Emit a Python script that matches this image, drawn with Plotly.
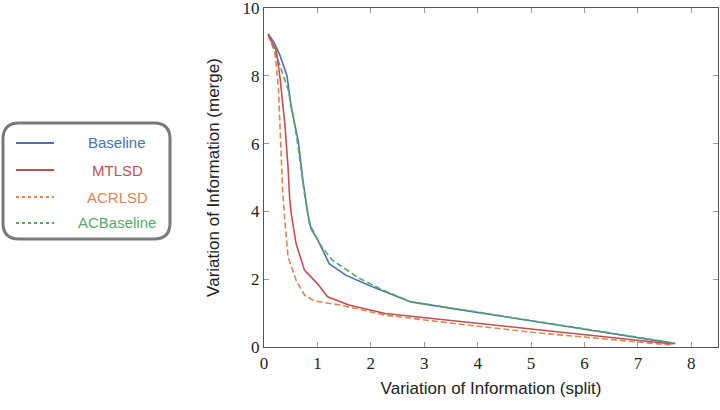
import plotly.graph_objects as go

# ---- data ----
baseline_x = [0.08, 0.2, 0.3, 0.43, 0.51, 0.64, 0.73, 0.82, 0.88, 1.01, 1.22, 1.53, 1.96, 2.75, 3.63, 5.0, 6.3, 7.7]
baseline_y = [9.24, 8.95, 8.6, 8.0, 7.07, 6.09, 4.9, 3.93, 3.49, 3.15, 2.46, 2.12, 1.82, 1.33, 1.11, 0.78, 0.45, 0.1]

acbaseline_x = [0.08, 0.3, 0.45, 0.55, 0.64, 0.75, 0.85, 1.04, 1.28, 1.78, 2.2, 2.75, 3.63, 5.0, 6.3, 7.7]
acbaseline_y = [9.22, 8.3, 7.6, 6.8, 5.9, 4.6, 3.64, 3.05, 2.56, 2.03, 1.7, 1.33, 1.12, 0.79, 0.46, 0.11]

mtlsd_x = [0.08, 0.23, 0.3, 0.39, 0.45, 0.48, 0.51, 0.6, 0.76, 1.0, 1.19, 1.59, 2.27, 3.14, 5.0, 7.65]
mtlsd_y = [9.2, 8.74, 7.95, 6.58, 5.3, 4.4, 3.93, 3.05, 2.26, 1.87, 1.48, 1.24, 0.99, 0.84, 0.53, 0.09]

acrlsd_x = [0.08, 0.2, 0.27, 0.31, 0.35, 0.39, 0.45, 0.6, 0.76, 0.94, 1.41, 2.27, 3.63, 5.11, 7.6]
acrlsd_y = [9.2, 8.74, 7.66, 6.09, 4.6, 3.73, 2.66, 1.97, 1.53, 1.36, 1.24, 0.94, 0.68, 0.42, 0.06]

series_names = ["Baseline", "MTLSD", "ACRLSD", "ACBaseline"]
series_colors = ["#4C72B0", "#C44E52", "#DD8452", "#55A868"]
series_dash = ["solid", "solid", "dash", "dash"]
series_data = [(baseline_x, baseline_y), (mtlsd_x, mtlsd_y), (acrlsd_x, acrlsd_y), (acbaseline_x, acbaseline_y)]

x_ticks = [0, 1, 2, 3, 4, 5, 6, 7, 8]
y_ticks = [0, 2, 4, 6, 8, 10]

# ---- layout geometry (pixels) ----
W, H = 720, 410
L, R, T, B = 264, 2, 8, 63
pw, ph = W - L - R, H - T - B

def px(xp):
    return (xp - L) / pw

def py(yp):
    return (H - B - yp) / ph

fig = go.Figure()
draw_order = [0, 3, 2, 1]
for i in draw_order:
    xs, ys = series_data[i]
    fig.add_trace(go.Scatter(
        x=xs, y=ys, mode="lines", name=series_names[i],
        line=dict(color=series_colors[i], width=1.6, dash=("6px,3px" if series_dash[i] == "dash" else "solid")),
        showlegend=False,
    ))

# legend box (rounded)
x0, x1 = px(3), px(170)
yt, yb = py(123), py(239)
r = 16
rx, ry = r / pw, r / ph
path = (f"M {x0+rx},{yt} L {x1-rx},{yt} Q {x1},{yt} {x1},{yt-ry} "
        f"L {x1},{yb+ry} Q {x1},{yb} {x1-rx},{yb} L {x0+rx},{yb} "
        f"Q {x0},{yb} {x0},{yb+ry} L {x0},{yt-ry} Q {x0},{yt} {x0+rx},{yt} Z")
shapes = [dict(type="path", path=path, xref="paper", yref="paper",
               line=dict(color="#7a7a7a", width=3), fillcolor="white", layer="above")]
annotations = []
rows = [143, 170, 197, 223]
for i, yy in enumerate(rows):
    dash = "solid" if series_dash[i] == "solid" else "dot"
    shapes.append(dict(type="line", xref="paper", yref="paper",
                       x0=px(16), x1=px(54), y0=py(yy), y1=py(yy),
                       line=dict(color=series_colors[i], width=2.2 if dash == "solid" else 2, dash=dash)))
    annotations.append(dict(x=px(117), y=py(yy), xref="paper", yref="paper",
                            text=series_names[i], showarrow=False, xanchor="center", yanchor="middle",
                            font=dict(family="Liberation Sans, Arial, sans-serif", size=15, color=series_colors[i])))

axis_common = dict(showgrid=False, zeroline=False, showline=True, linecolor="#555555", linewidth=1.2,
                   mirror="allticks", ticks="inside", ticklen=5, tickcolor="#9a9a9a", tickwidth=1,
                   automargin=False, ticklabeloverflow="allow",
                   tickfont=dict(family="Liberation Serif, Times New Roman, serif", size=17, color="#222222"),
                   title_font=dict(family="Liberation Sans, Arial, sans-serif", size=17, color="#222222"))

fig.update_layout(
    width=W, height=H, autosize=False,
    margin=dict(l=L, r=R, t=T, b=B),
    paper_bgcolor="white", plot_bgcolor="white",
    shapes=shapes, annotations=annotations,
    xaxis=dict(range=[0, 8.5], tickvals=x_ticks, title=dict(text="Variation of Information (split)", standoff=10), **axis_common),
    yaxis=dict(range=[0, 10], tickvals=y_ticks, title=dict(text="Variation of Information (merge)", standoff=18), **axis_common),
)

fig.write_html("out.html", config={"responsive": False, "displayModeBar": False},
               post_script="document.body.style.margin='0';document.body.style.overflow='hidden';")
